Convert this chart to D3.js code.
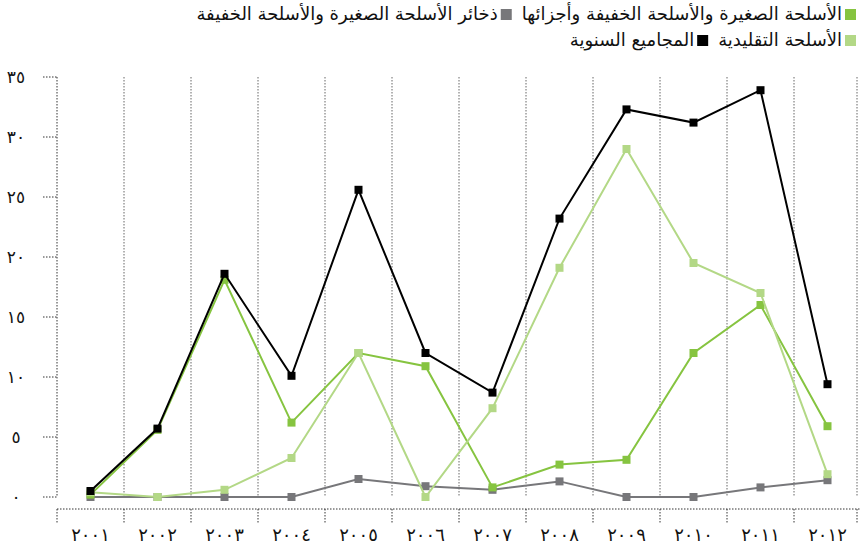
<!DOCTYPE html>
<html>
<head>
<meta charset="utf-8">
<script src="https://cdn.jsdelivr.net/npm/d3@7"></script>
<style>
  body { margin: 0; background: #fff; }
  text { font-family: "DejaVu Sans", sans-serif; fill: #111; }
</style>
</head>
<body>
<script>
var years = ["2001", "2002", "2003", "2004", "2005", "2006", "2007", "2008", "2009", "2010", "2011", "2012"];
var yearLabels = ["٢٠٠١", "٢٠٠٢", "٢٠٠٣", "٢٠٠٤", "٢٠٠٥", "٢٠٠٦", "٢٠٠٧", "٢٠٠٨", "٢٠٠٩", "٢٠١٠", "٢٠١١", "٢٠١٢"];
var yTicks = [0, 5, 10, 15, 20, 25, 30, 35];
var yTickLabels = ["٠", "٥", "١٠", "١٥", "٢٠", "٢٥", "٣٠", "٣٥"];

// series values
var ammo = [0, 0, 0, 0, 1.5, 0.9, 0.6, 1.3, 0, 0, 0.8, 1.4];
var salw = [0.2, 5.6, 18.1, 6.2, 12, 10.9, 0.8, 2.7, 3.1, 12, 16, 5.9];
var conventional = [0.4, 0, 0.6, 3.25, 12, 0, 7.4, 19.1, 29, 19.5, 17, 1.9];
var totals = [0.5, 5.7, 18.6, 10.1, 25.6, 12, 8.7, 23.2, 32.3, 31.2, 33.9, 9.4];

var seriesNames = [
  "الأسلحة الصغيرة والأسلحة الخفيفة وأجزائها",
  "ذخائر الأسلحة الصغيرة والأسلحة الخفيفة",
  "الأسلحة التقليدية",
  "المجاميع السنوية"
];
var seriesColors = ["#86c440", "#77777a", "#b3d886", "#000000"];
var seriesValues = [salw, ammo, conventional, totals];

var width = 861, height = 546;
var svg = d3.select("body").append("svg")
  .attr("width", width)
  .attr("height", height);

var x = d3.scaleBand().domain(years).range([57, 861]).padding(0);
var y = d3.scaleLinear().domain([0, 35]).range([497, 77]);

var dotted = "1.5,1.5";

// vertical gridlines at band edges
var edges = years.map(function(d){ return x(d); }).concat([x.range()[1] - 4]);
svg.append("g").selectAll("line")
  .data(edges.slice(1))
  .enter().append("line")
  .attr("x1", function(d){ return d; })
  .attr("x2", function(d){ return d; })
  .attr("y1", y(35))
  .attr("y2", y(0))
  .attr("stroke", "#666")
  .attr("stroke-width", 1)
  .attr("stroke-dasharray", dotted);

// y axis
var yAxis = svg.append("g");
yAxis.append("line")
  .attr("x1", 57).attr("x2", 57)
  .attr("y1", y(35)).attr("y2", y(0))
  .attr("stroke", "#333").attr("stroke-dasharray", dotted);
yAxis.selectAll(".tk").data(yTicks).enter().append("line")
  .attr("x1", 43).attr("x2", 57)
  .attr("y1", function(d){ return y(d); })
  .attr("y2", function(d){ return y(d); })
  .attr("stroke", "#333").attr("stroke-dasharray", dotted);
yAxis.selectAll("text").data(yTicks).enter().append("text")
  .attr("x", 16)
  .attr("y", function(d){ return y(d); })
  .attr("dy", "0.35em")
  .attr("text-anchor", "middle")
  .style("font-size", "17px")
  .text(function(d, i){ return yTickLabels[i]; });

// x axis
var xAxisY = 509;
var xAxis = svg.append("g");
xAxis.append("line")
  .attr("x1", 57).attr("x2", 861)
  .attr("y1", xAxisY).attr("y2", xAxisY)
  .attr("stroke", "#333").attr("stroke-dasharray", dotted);
xAxis.selectAll(".tk").data(edges).enter().append("line")
  .attr("x1", function(d){ return d; })
  .attr("x2", function(d){ return d; })
  .attr("y1", xAxisY).attr("y2", xAxisY + 14)
  .attr("stroke", "#333").attr("stroke-dasharray", dotted);
xAxis.selectAll("text").data(years).enter().append("text")
  .attr("x", function(d){ return x(d) + x.bandwidth() / 2; })
  .attr("y", 541)
  .attr("text-anchor", "middle")
  .style("font-size", "18px")
  .text(function(d, i){ return yearLabels[i]; });

// lines, drawn bottom to top
var drawOrder = [1, 0, 2, 3];
var line = d3.line()
  .x(function(d, i){ return x(years[i]) + x.bandwidth() / 2; })
  .y(function(d){ return y(d); });

drawOrder.forEach(function(s){
  var g = svg.append("g");
  g.append("path")
    .datum(seriesValues[s])
    .attr("fill", "none")
    .attr("stroke", seriesColors[s])
    .attr("stroke-width", 2)
    .attr("d", line);
  g.selectAll("rect").data(seriesValues[s]).enter().append("rect")
    .attr("x", function(d, i){ return x(years[i]) + x.bandwidth() / 2 - 4; })
    .attr("y", function(d){ return y(d) - 4; })
    .attr("width", 8)
    .attr("height", 8)
    .attr("fill", seriesColors[s]);
});

// legend (right to left)
var legendRows = [[0, 1], [2, 3]];
legendRows.forEach(function(row, r){
  var cy = 14 + r * 26;
  var right = 856;
  row.forEach(function(s){
    svg.append("rect")
      .attr("x", right - 11)
      .attr("y", cy - 5)
      .attr("width", 11)
      .attr("height", 11)
      .attr("fill", seriesColors[s]);
    var t = svg.append("text")
      .attr("x", right - 14)
      .attr("y", cy)
      .attr("dy", "0.35em")
      .attr("text-anchor", "end")
      .style("font-size", "18px")
      .text(seriesNames[s]);
    var w = t.node().getComputedTextLength();
    right = right - 14 - w - 10;
  });
});
</script>
</body>
</html>
